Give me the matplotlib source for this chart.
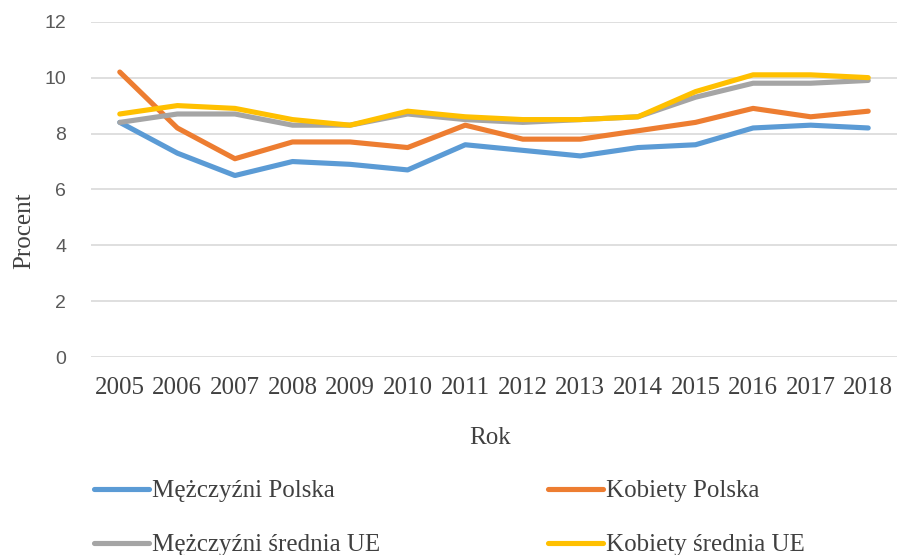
import numpy as np
import matplotlib
matplotlib.use("Agg")
import matplotlib.pyplot as plt

years = ["2005", "2006", "2007", "2008", "2009", "2010", "2011",
         "2012", "2013", "2014", "2015", "2016", "2017", "2018"]

men_pl = [8.4, 7.3, 6.5, 7.0, 6.9, 6.7, 7.6, 7.4, 7.2, 7.5, 7.6, 8.2, 8.3, 8.2]
women_pl = [10.2, 8.2, 7.1, 7.7, 7.7, 7.5, 8.3, 7.8, 7.8, 8.1, 8.4, 8.9, 8.6, 8.8]
men_eu = [8.4, 8.7, 8.7, 8.3, 8.3, 8.7, 8.5, 8.4, 8.5, 8.6, 9.3, 9.8, 9.8, 9.9]
women_eu = [8.7, 9.0, 8.9, 8.5, 8.3, 8.8, 8.6, 8.5, 8.5, 8.6, 9.5, 10.1, 10.1, 10.0]

labels = ["Mężczyźni Polska", "Kobiety Polska",
          "Mężczyźni średnia UE", "Kobiety średnia UE"]
colors = ["#5B9BD5", "#ED7D31", "#A5A5A5", "#FFC000"]

serif = "Liberation Serif"
text_col = "#404040"

fig = plt.figure(figsize=(8.99, 5.55), dpi=100)
ax = fig.add_axes([91 / 899, 1 - 357.3 / 555, 806 / 899, (357.3 - 21.7) / 555])

x = np.arange(len(years))
lines = []
for ys, c, lab in zip([men_pl, women_pl, men_eu, women_eu], colors, labels):
    ln, = ax.plot(x, ys, color=c, lw=3.7, solid_capstyle="round",
                  solid_joinstyle="round", label=lab)
    lines.append(ln)

ax.set_xlim(-0.5, len(years) - 0.5)
ax.set_ylim(0, 12)
ax.set_yticks(range(0, 13, 2))
ax.set_xticks(x)
ax.set_xticklabels(years, family=serif, fontsize=18, color=text_col)
for t in ax.get_yticklabels():
    t.set_family("Liberation Sans")
    t.set_fontsize(14)
    t.set_color("#595959")
ax.tick_params(length=0)
ax.tick_params(axis="y", pad=18)
ax.tick_params(axis="x", pad=14)
ax.grid(axis="y", color="#D9D9D9", lw=1.2)
ax.set_axisbelow(True)
for s in ax.spines.values():
    s.set_visible(False)

ax.set_ylabel("Procent", family=serif, fontsize=18, color=text_col)
ax.yaxis.set_label_coords(-0.0694, 0.376)
fig.text(490 / 899, 1 - 438 / 555, "Rok", family=serif, fontsize=18,
         color=text_col, ha="center", va="center")

# legend fills column-wise, so order handles to get 2 rows like the original
order = [0, 2, 1, 3]
fig.legend(handles=[lines[i] for i in order], ncol=2, loc="upper left",
           bbox_to_anchor=(84 / 899, 1 - 470 / 555),
           frameon=False, prop={"family": serif, "size": 18},
           labelcolor=text_col, handlelength=2.2, handletextpad=0.12,
           columnspacing=6.7, labelspacing=1.25, borderaxespad=0)

fig.savefig("out.png", dpi=100)
